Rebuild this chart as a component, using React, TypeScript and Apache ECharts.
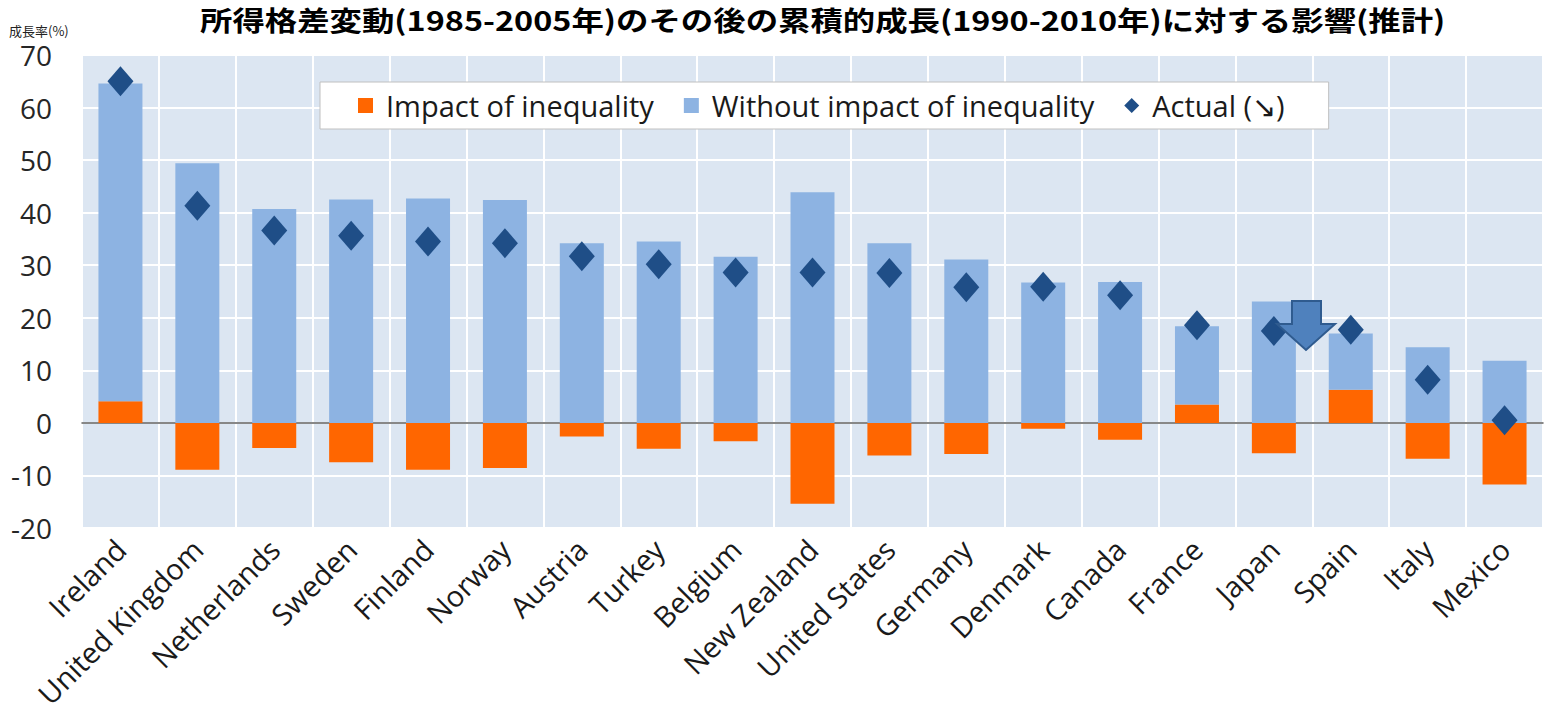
import React, { useEffect, useRef } from "react";
import * as echarts from "echarts";

const countries = [
  "Ireland", "United Kingdom", "Netherlands", "Sweden", "Finland", "Norway",
  "Austria", "Turkey", "Belgium", "New Zealand", "United States", "Germany",
  "Denmark", "Canada", "France", "Japan", "Spain", "Italy", "Mexico",
];
// Impact of inequality (percentage points)
const impact = [
  4.1, -8.9, -4.8, -7.5, -8.9, -8.6, -2.6, -4.9, -3.5, -15.4, -6.2, -5.9,
  -1.1, -3.2, 3.5, -5.8, 6.3, -6.8, -11.7,
];
// Without impact of inequality (visible bar segment, stacked on positive impact)
const withoutImpact = [
  60.5, 49.4, 40.7, 42.5, 42.7, 42.4, 34.2, 34.5, 31.6, 43.9, 34.2, 31.1,
  26.7, 26.8, 14.9, 23.1, 10.7, 14.4, 11.8,
];
// Actual cumulative growth
const actual = [
  65.0, 41.3, 36.6, 35.6, 34.5, 34.2, 31.7, 30.2, 28.6, 28.6, 28.5, 25.8,
  25.9, 24.3, 18.6, 17.5, 17.7, 8.2, 0.5,
];
const yTicks = { min: -20, max: 70, interval: 10 };

const title = "所得格差変動(1985-2005年)のその後の累積的成長(1990-2010年)に対する影響(推計)";
const yUnit = "成長率(%)";
const legendNames = ["Impact of inequality", "Without impact of inequality", "Actual (↘)"];

export default function App() {
  const ref = useRef<HTMLDivElement>(null);
  useEffect(() => {
    if (!ref.current) return;
    const chart = echarts.init(ref.current, null, { renderer: "svg" });
    const latin = "'Open Sans', 'Noto Sans', sans-serif";
    chart.setOption({
      animation: false,
      backgroundColor: "#ffffff",
      title: [
        {
          text: yUnit,
          left: 4,
          top: 17,
          textStyle: {
            fontFamily: "'Noto Sans CJK JP', sans-serif",
            fontWeight: "normal",
            fontSize: 13,
            lineHeight: 16,
            color: "#222222",
          },
        },
      ],
      legend: {
        left: 320,
        top: 82,
        data: [
          { name: legendNames[0], icon: "rect" },
          { name: legendNames[1], icon: "rect" },
          { name: legendNames[2], icon: "diamond" },
        ],
        itemWidth: 15,
        itemHeight: 15,
        itemGap: 30,
        padding: [9, 44, 9, 38],
        backgroundColor: "#ffffff",
        borderColor: "#c0c0c0",
        borderWidth: 1,
        textStyle: {
          fontFamily: latin,
          fontSize: 29,
          color: "#1a1a1a",
          padding: [0, 0, 0, 8],
        },
      },
      grid: {
        left: 82,
        right: 4,
        top: 55,
        bottom: 194,
        show: true,
        backgroundColor: "#dce6f2",
        borderColor: "#a6a6a6",
        borderWidth: 1,
      },
      xAxis: {
        type: "category",
        data: countries,
        boundaryGap: true,
        axisLine: { show: true, onZero: true, lineStyle: { color: "#606060", width: 1.5 } },
        axisTick: { show: false },
        splitLine: { show: true, lineStyle: { color: "#ffffff", width: 2 } },
        axisLabel: {
          interval: 0,
          rotate: 45,
          margin: 16,
          fontFamily: latin,
          fontSize: 29,
          color: "#1a1a1a",
        },
      },
      yAxis: {
        type: "value",
        min: yTicks.min,
        max: yTicks.max,
        interval: yTicks.interval,
        axisLine: { show: false },
        axisTick: { show: false },
        splitLine: { show: true, lineStyle: { color: "#ffffff", width: 2 } },
        axisLabel: {
          margin: 30,
          fontFamily: latin,
          fontSize: 28,
          lineHeight: 24,
          color: "#262626",
        },
      },
      series: [
        {
          name: legendNames[0],
          type: "bar",
          stack: "total",
          data: impact,
          barWidth: 44,
          itemStyle: { color: "#ff6600" },
        },
        {
          name: legendNames[1],
          type: "bar",
          stack: "total",
          data: withoutImpact,
          barWidth: 44,
          itemStyle: { color: "#8db3e2" },
        },
        {
          name: legendNames[2],
          type: "scatter",
          data: actual,
          symbol: "diamond",
          symbolSize: [26, 30],
          itemStyle: { color: "#1f4e87", opacity: 1 },
          z: 5,
        },
      ],
      graphic: [
        {
          type: "text",
          x: 200,
          y: 6,
          scaleX: 1.2,
          style: {
            text: title,
            fontFamily: "'Noto Sans CJK JP', sans-serif",
            fontWeight: "bold",
            fontSize: 27,
            fill: "#000000",
          },
        },
        {
          type: "polygon",
          z: 100,
          shape: {
            points: [
              [1292, 301], [1321, 301], [1321, 324], [1335, 324],
              [1306, 350], [1277, 324], [1292, 324],
            ],
          },
          style: { fill: "#4f81bd", stroke: "#2f5b8f", lineWidth: 2 },
        },
      ],
    });
    return () => chart.dispose();
  }, []);
  return (
    <div
      ref={ref}
      style={{ position: "absolute", left: 0, top: 0, width: 1547, height: 722 }}
    />
  );
}
